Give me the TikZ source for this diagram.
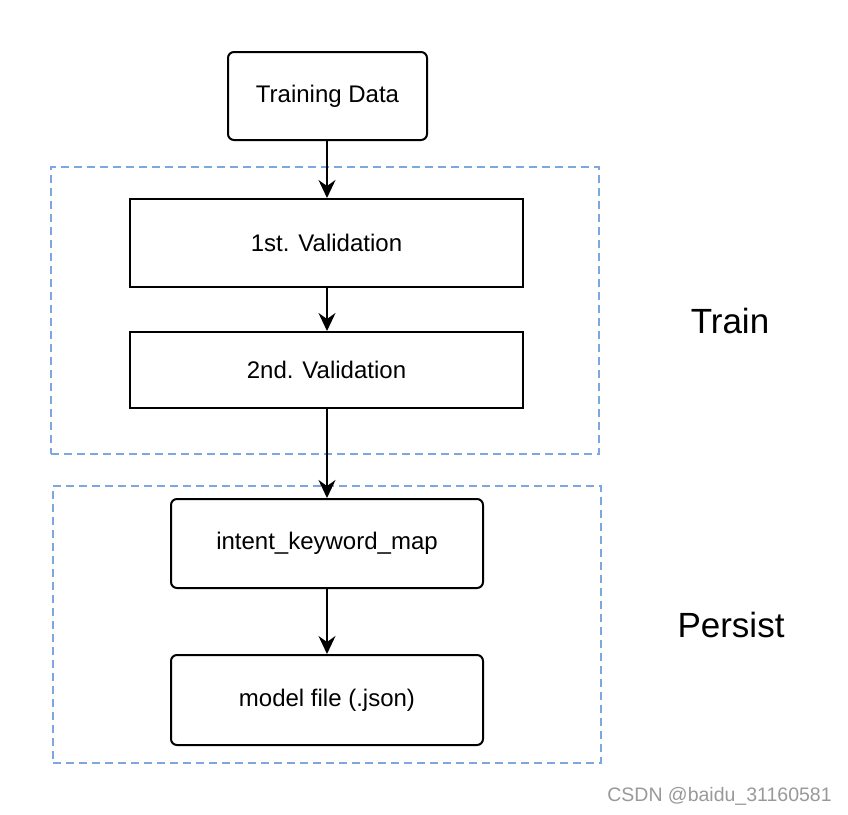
\documentclass[tikz,border=0pt]{standalone}
\usepackage{fontspec}
\setmainfont{Liberation Sans}
\usetikzlibrary{arrows.meta}
\definecolor{dashblue}{HTML}{7EA6E0}
\begin{document}
\begin{tikzpicture}[x=1pt,y=-1pt,
  box/.style={draw=black, line width=2pt, minimum width=#1, inner sep=0pt, font=\fontsize{24}{27}\selectfont},
  rbox/.style={box=#1, rounded corners=6pt},
  group/.style={draw=dashblue, line width=2pt, dash pattern=on 8pt off 5pt},
  tip/.tip={Stealth[length=18pt,width=17pt,inset=6pt]},
  conn/.style={draw=black, line width=2pt, -tip},
  biglabel/.style={font=\fontsize{35}{40}\selectfont},
]
\useasboundingbox (0,0) rectangle (848,814);
\fill[white] (0,0) rectangle (848,814);
% groups
\node[group, minimum width=548pt, minimum height=287pt, inner sep=0pt] (train) at (325,310.5) {};
\node[group, minimum width=548pt, minimum height=277pt, inner sep=0pt] (persist) at (327,624.5) {};
% nodes
\node[rbox=199pt, minimum height=88pt] (td) at (327.5,96) {Training Data};
\node[box=393pt, minimum height=88pt] (v1) at (326.5,243) {1st. Validation};
\node[box=393pt, minimum height=76pt] (v2) at (326.5,370) {2nd. Validation};
\node[rbox=312pt, minimum height=89pt] (ikm) at (327,543.5) {intent\_keyword\_map};
\node[rbox=312pt, minimum height=90pt] (mf) at (327,700) {model file (.json)};
% labels
\node[biglabel] (trainlbl) at (730,321) {Train};
\node[biglabel] (persistlbl) at (731,625) {Persist};
\node[font=\fontsize{19.5}{22}\selectfont, text=black!40] (wm) at (719.5,796) {CSDN @baidu\_31160581};
% connectors
\draw[conn] (td.south -| 327,0) -- (v1.north -| 327,0);
\draw[conn] (v1.south -| 327,0) -- (v2.north -| 327,0);
\draw[conn] (v2.south -| 327,0) -- (ikm.north -| 327,0);
\draw[conn] (ikm.south -| 327,0) -- (mf.north -| 327,0);
\end{tikzpicture}
\end{document}
